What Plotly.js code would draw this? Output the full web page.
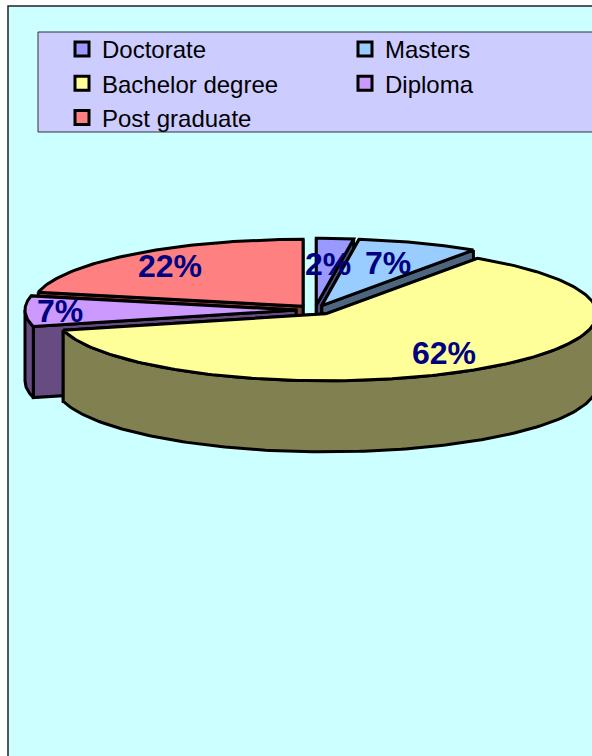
<!DOCTYPE html>
<html><head><meta charset="utf-8">
<script src="https://cdn.plot.ly/plotly-3.0.1.min.js"></script>
<style>html,body{margin:0;padding:0;background:#fff;overflow:hidden}</style>
</head><body><div id="chart" style="width:592px;height:756px"></div>
<script>
// Data (percent shares; labels show the rounded value)
const categories = ["Doctorate","Masters","Bachelor degree","Diploma","Post graduate"];
const shares = [2.2,7.25,61.6,7.35,21.6];
const legendGroup = ["legend","legend2","legend","legend2","legend"];
const topColors = ["#9999ff","#99ccff","#ffff99","#cc99ff","#ff8080"];
const wallColors = ["#4c4c80","#4c6680","#808050","#664c80","#804040"];
const labelRadius = [0.62,0.68,0.76,0.87,0.78];
const labelLift = [0,0,3,0,0];
const paintOrder = [4,0,1,3,2];

// Pie projection parameters
const cx0=315, cy0=310, rx=271, ry=67, depth=71, explode=19, lw=3;
const rad=d=>d*Math.PI/180;
const total=shares.reduce((a,b)=>a+b,0);
let run=0;
const slices=shares.map((v,i)=>{
  const s=run/total*360; run+=v; const e=run/total*360; const m=(s+e)/2;
  return {i,s,e,m,cx:cx0+explode*Math.sin(rad(m)),cy:cy0-explode*Math.cos(rad(m))*ry/rx};
});
const pt=(sl,a,dz=0)=>[sl.cx+rx*Math.sin(rad(a)),sl.cy-ry*Math.cos(rad(a))+dz];
function arc(sl,a,b,dz=0){const out=[];const n=Math.max(2,Math.ceil(Math.abs(b-a)));
  for(let k=0;k<=n;k++)out.push(pt(sl,a+(b-a)*k/n,dz));return out;}
function poly(points,fill){const p=points.concat([points[0]]);return{
  type:"scatter",mode:"lines",x:p.map(q=>q[0]),y:p.map(q=>q[1]),fill:"toself",fillcolor:fill,
  line:{color:"#000",width:lw,shape:"linear"},hoverinfo:"skip",showlegend:false};}

const data=categories.map((c,i)=>({type:"scatter",mode:"markers",x:[null],y:[null],name:c,legend:legendGroup[i],
  marker:{symbol:"square",size:14,color:topColors[i],line:{color:"#000",width:3}},hoverinfo:"skip"}));
paintOrder.forEach(i=>{
  const sl=slices[i], apex=[sl.cx,sl.cy], apexD=[sl.cx,sl.cy+depth];
  const cuts=sl.m<180?[sl.s,sl.e]:[sl.e,sl.s];
  cuts.forEach(a=>data.push(poly([pt(sl,a),apex,apexD,pt(sl,a,depth)],wallColors[i])));
  const f0=Math.max(sl.s,90), f1=Math.min(sl.e,270);
  if(f1>f0) data.push(poly(arc(sl,f0,f1).concat(arc(sl,f1,f0,depth)),wallColors[i]));
  data.push(poly([apex].concat(arc(sl,sl.s,sl.e)),topColors[i]));
});

const annotations=slices.map(sl=>{const f=labelRadius[sl.i];return{
  x:sl.cx+rx*f*Math.sin(rad(sl.m)),y:sl.cy-ry*f*Math.cos(rad(sl.m)),xref:"x",yref:"y",showarrow:false,yshift:labelLift[sl.i],
  text:Math.round(shares[sl.i])+"%",font:{family:"Liberation Sans, Arial, sans-serif",size:32,color:"#000080",weight:700}};});

const legendFont={size:24,family:"Liberation Sans, Arial, sans-serif",color:"#000"};
const legendBase={xanchor:"left",yanchor:"top",y:1-27/756,bgcolor:"rgba(0,0,0,0)",borderwidth:0,font:legendFont,itemclick:false,itemdoubleclick:false};
const layout={width:592,height:756,margin:{l:0,r:0,t:0,b:0},paper_bgcolor:"#fff",plot_bgcolor:"#fff",
  xaxis:{range:[0,592],visible:false,fixedrange:true},yaxis:{range:[756,0],visible:false,fixedrange:true},
  font:{family:"Liberation Sans, Arial, sans-serif",color:"#000"},
  shapes:[
   {type:"rect",xref:"x",yref:"y",x0:8,y0:6,x1:640,y1:800,fillcolor:"#ccffff",line:{color:"#222",width:1.5},layer:"below"},
   {type:"rect",xref:"x",yref:"y",x0:38,y0:32,x1:640,y1:132,fillcolor:"#ccccff",line:{color:"#333",width:1},layer:"below"}
  ],
  legend:Object.assign({},legendBase,{x:62/592}),
  legend2:Object.assign({},legendBase,{x:345/592}),
  annotations};
Plotly.newPlot("chart",data,layout,{displayModeBar:false,staticPlot:true});
</script></body></html>
